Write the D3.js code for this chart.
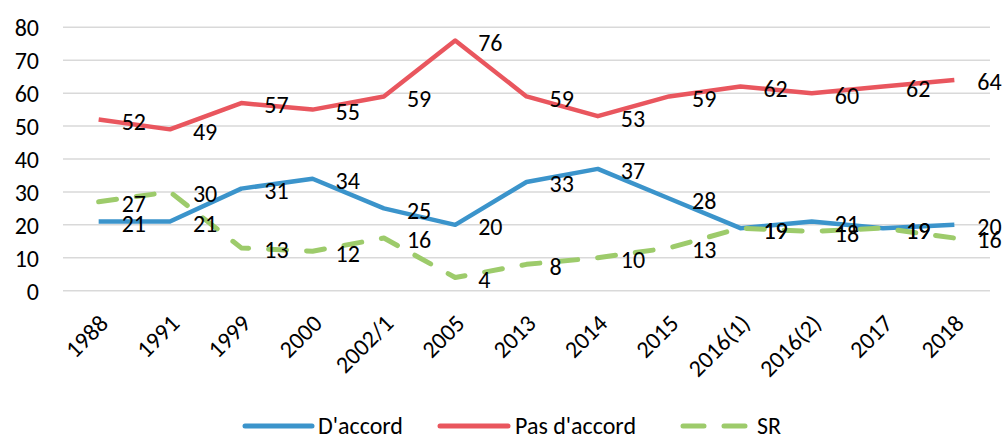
<!DOCTYPE html>
<html><head><meta charset="utf-8">
<script src="https://cdn.jsdelivr.net/npm/d3@7"></script>
<style>
body{margin:0;background:#fff;}
text{font-family:Carlito,Calibri,"Liberation Sans",sans-serif;fill:#000;}
</style></head>
<body>
<svg id="c" width="1005" height="437"></svg>
<script>
const categories = ["1988","1991","1999","2000","2002/1","2005","2013","2014","2015","2016(1)","2016(2)","2017","2018"];
const daccord = [21,21,31,34,25,20,33,37,28,19,21,19,20];
const pasDaccord = [52,49,57,55,59,76,59,53,59,62,60,62,64];
const sr = [27,30,13,12,16,4,8,10,13,19,18,19,16];
const yTicks = [0,10,20,30,40,50,60,70,80];
const seriesNames = ["D'accord","Pas d'accord","SR"];

const FS = "24px";
const FF = 'Carlito,Calibri,"Liberation Sans",sans-serif';

const series = [
  {name: seriesNames[0], values: daccord, color:"#3b94cb", dash:null},
  {name: seriesNames[1], values: pasDaccord, color:"#e9565e", dash:null},
  {name: seriesNames[2], values: sr, color:"#9dcb6b", dash:"18 20"}
];

const svg = d3.select("#c");
const x = d3.scaleBand().domain(categories).range([63, 990]);
const y = d3.scaleLinear().domain([0, 80]).range([290.7, 27.3]);
const cx = c => x(c) + x.bandwidth()/2;

// gridlines
svg.append("g").selectAll("line").data(yTicks).join("line")
  .attr("x1", 63).attr("x2", 990)
  .attr("y1", d => y(d)).attr("y2", d => y(d))
  .attr("stroke", "#d9d9d9").attr("stroke-width", 1.5);

// y axis labels
const yAxis = d3.axisLeft(y).tickValues(yTicks).tickSize(0).tickPadding(0);
const gy = svg.append("g").attr("transform", "translate(39,0)").call(yAxis);
gy.select(".domain").remove();
gy.selectAll("text").style("font-size",FS).attr("dy","0.35em").style("font-family",FF);

// x axis labels
const xAxis = d3.axisBottom(x).tickSize(0).tickPadding(0);
const gx = svg.append("g").attr("transform", "translate(0,300)").call(xAxis);
gx.select(".domain").remove();
gx.selectAll("text")
  .style("font-size",FS)
  .style("font-family",FF)
  .attr("text-anchor","end")
  .attr("dy","0.35em")
  .attr("y", 0)
  .attr("transform","translate(5,19) rotate(-45)");

// lines
const line = d3.line().x((d,i) => cx(categories[i])).y(d => y(d));
series.forEach(s => {
  const p = svg.append("path").datum(s.values)
    .attr("d", line).attr("fill","none")
    .attr("stroke", s.color).attr("stroke-width", 4.5)
    .attr("stroke-linejoin","round");
  if (s.dash) p.attr("stroke-dasharray", s.dash).attr("stroke-linecap","round").attr("stroke-width",5);
});

// data labels
series.forEach(s => {
  svg.append("g").selectAll("text").data(s.values).join("text")
    .attr("x", (d,i) => cx(categories[i]) + 23)
    .attr("y", d => y(d) + 2)
    .attr("dy","0.35em")
    .style("font-size",FS)
    .text(d => d);
});

// legend
const legendItems = [
  {s: series[0], x0: 245, x1: 312, tx: 318},
  {s: series[1], x0: 440, x1: 508, tx: 515},
  {s: series[2], x0: 683, x1: 746, tx: 757}
];
const lg = svg.append("g");
legendItems.forEach(it => {
  const l = lg.append("line").attr("x1", it.x0).attr("x2", it.x1)
    .attr("y1", 426).attr("y2", 426)
    .attr("stroke", it.s.color).attr("stroke-width", 5).attr("stroke-linecap","round");
  if (it.s.dash) l.attr("stroke-dasharray","21 20");
  lg.append("text").attr("x", it.tx).attr("y", 426).attr("dy","0.35em")
    .style("font-size",FS).text(it.s.name);
});
</script>
</body></html>
